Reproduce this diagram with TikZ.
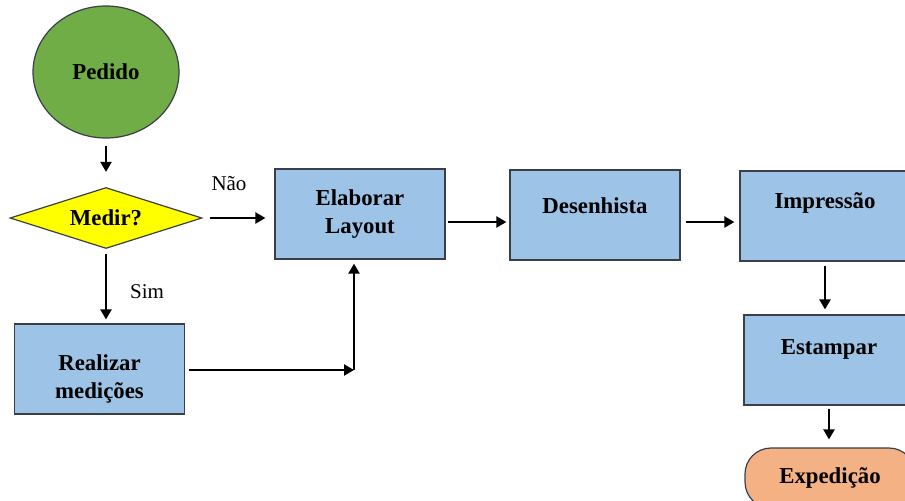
\documentclass[tikz,border=0pt]{standalone}
\usepackage{fontspec}
\setmainfont{Liberation Serif}
\usetikzlibrary{arrows.meta, shapes.geometric}
\definecolor{verde}{HTML}{70AD47}
\definecolor{amarelo}{HTML}{FFFF00}
\definecolor{azul}{HTML}{9DC3E6}
\definecolor{laranja}{HTML}{F4B183}
\definecolor{borda}{HTML}{3A3F47}

\begin{document}
\begin{tikzpicture}[x=0.5pt,y=-0.5pt,
 font=\fontsize{11.4}{14}\selectfont\bfseries,
 >={Triangle[length=5pt,width=5.5pt]},
 inicio/.style = {ellipse, draw=borda, line width=0.6pt, fill=verde, minimum width=73pt, minimum height=66pt},
 decisao/.style = {diamond, draw=borda, line width=0.6pt, fill=amarelo, aspect=3.1, inner sep=0pt, minimum width=96pt, minimum height=30.5pt},
 processo/.style = {rectangle, draw=borda, line width=0.6pt, fill=azul, minimum width=85pt, minimum height=45pt, inner sep=0pt, align=center},
 fim/.style = {rectangle, rounded corners=13pt, draw=borda, line width=0.6pt, fill=laranja, minimum width=85pt, minimum height=30pt},
 rotulo/.style = {font=\fontsize{10.5}{12}\selectfont}
]
\useasboundingbox (0,0) rectangle (905,500);
\clip (0,0) rectangle (905,500);

\node (pedido)[inicio]   at (106,72)  {Pedido};
\node (medir)[decisao]   at (106,218) {Medir?};
\node (elab)[processo]   at (360,214) {Elaborar\\Layout};
\node (desen)[processo, text height=8pt, text depth=9.5pt]  at (595,215) {Desenhista};
\node (impr)[processo, text height=8pt, text depth=15.5pt]  at (825,216) {Impressão};
\node (estamp)[processo, text height=8pt, text depth=13.5pt] at (829,360) {Estampar};
\node (exped)[fim]       at (830,478) {Expedição};
\node (real)[processo]   at (99.5,369) {\rule{0pt}{17.5pt}Realizar\\medições};

\node (nao)[rotulo] at (229,184) {Não};
\node (sim)[rotulo] at (147,292) {Sim};
\coordinate (canto) at (354,370);

\path[->, line width=1.1pt]
      (pedido) edge[shorten <=3.5pt, shorten >=7.5pt] (medir)
      (medir.east) edge[shorten <=3.5pt, shorten >=4.5pt] (medir.east -| elab.west)
      (medir.south) edge[shorten <=2.5pt, shorten >=2pt] (medir.south |- real.north)
      ([yshift=-4pt]elab.east) edge[shorten <=1pt, shorten >=1.5pt] ([yshift=-4pt]elab.east -| desen.west)
      ([yshift=-3.5pt]desen.east) edge[shorten <=2.5pt, shorten >=2.5pt] ([yshift=-3.5pt]desen.east -| impr.west)
      (impr.south) edge[shorten <=2pt, shorten >=2.5pt] (impr.south |- estamp.north)
      (estamp.south) edge[shorten <=1.5pt, shorten >=4pt] (estamp.south |- exped.north);

\path[->, line width=1.1pt]
      (real.east |- canto) edge[shorten <=2pt] (canto)
      (canto) edge[shorten >=2pt] (canto |- elab.south);
\end{tikzpicture}
\end{document}
